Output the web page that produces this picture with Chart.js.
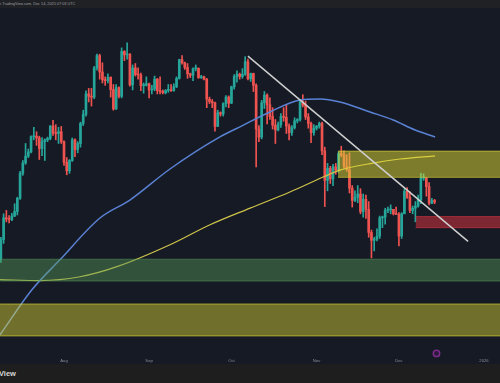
<!DOCTYPE html>
<html><head><meta charset="utf-8">
<script src="https://cdn.jsdelivr.net/npm/chart.js@4.4.1/dist/chart.umd.min.js"></script>
<style>
html,body{margin:0;padding:0;width:500px;height:383px;overflow:hidden;background:#1e1e1e;font-family:"Liberation Sans",Arial,sans-serif;}
#top{position:absolute;left:0;top:0;width:500px;height:8px;background:#202125;overflow:hidden;}
#toptxt{position:absolute;left:-3px;top:2.2px;font-size:7.6px;line-height:8px;color:#9b9ca1;white-space:nowrap;transform:scale(0.5);transform-origin:0 0;}
#wrap{position:absolute;left:0;top:8px;width:500px;height:356px;background:#161a25;}
#bottom{position:absolute;left:0;top:364px;width:500px;height:19px;background:#1e1e1e;overflow:hidden;}
#logo{position:absolute;left:-1px;top:5px;font-size:7.5px;line-height:9px;font-weight:bold;color:#d8d8d8;}
</style></head>
<body>
<div id="top"><span id="toptxt">on TradingView.com, Dec 14, 2025 07:03 UTC</span></div>
<div id="wrap"><canvas id="c" width="500" height="356"></canvas></div>
<div id="bottom"><span id="logo">View</span></div>
<script>
// day 0 = 2025-07-01 ; first candle = Jul 9 (day 8), last = Dec 14 (day 166)
const firstDay = 8;
const opens = [2615,2770,2955,2945,2940,2970,3010,3130,3370,3475,3545,3590,3755,3760,3740,3625,3700,3720,3735,3875,3795,3790,3810,
3700,3480,3395,3500,3720,3615,3680,3905,4010,4260,4230,4220,4600,4770,4545,4440,4430,4475,4315,4075,4340,4230,4830,4780,4790,4375,4600,4510,4505,4365,4370,
4390,4310,4320,4450,4300,4290,4275,4305,4310,4300,4350,4460,4715,4670,4605,4520,4500,4590,4595,4470,4480,4450,4195,4165,4150,3870,4030,4015,4140,4220,
4145,4350,4485,4515,4485,4515,4685,4455,4525,4370,3840,3750,4150,4245,4125,3985,3885,3830,3890,3985,3975,3875,3800,3855,3935,3950,4160,4120,3980,3905,3800,
3850,3875,3905,3600,3300,3420,3315,3435,3400,3570,3560,3440,3410,3225,3110,3140,3170,3010,3120,3030,2830,2765,2775,2800,2955,2960,3020,3025,3030,2990,
2985,2800,2990,3195,3140,3020,3040,3060,3115,3320,3325,3240,3085,3110];
const highs = [2790,2990,3020,2975,2995,3080,3140,3390,3500,3680,3620,3765,3860,3810,3760,3745,3730,3750,3880,3940,3890,3860,3870,
3710,3530,3510,3740,3730,3700,3920,4060,4300,4330,4330,4620,4790,4790,4670,4480,4520,4480,4380,4380,4350,4880,4840,4955,4800,4640,4660,4600,4530,4400,4480,
4400,4370,4490,4460,4480,4310,4315,4380,4380,4390,4480,4720,4770,4680,4660,4530,4600,4640,4600,4500,4490,4460,4220,4190,4160,4060,4040,4150,4240,4235,
4360,4510,4560,4530,4590,4755,4720,4530,4530,4390,3880,4180,4290,4260,4210,4090,3950,3920,4020,4090,4120,3900,3880,3970,3960,4170,4250,4170,4020,3920,3890,
3880,3920,3920,3640,3470,3440,3460,3470,3590,3650,3600,3560,3580,3250,3200,3250,3220,3170,3160,3100,2850,2790,2860,2970,2970,3040,3050,3070,3030,3050,
3000,3000,3220,3230,3190,3060,3100,3160,3370,3365,3330,3280,3130,3120];
const lows = [2590,2740,2920,2910,2930,2965,2980,3120,3350,3460,3530,3580,3720,3660,3510,3550,3500,3700,3720,3770,3720,3680,3680,
3450,3355,3370,3490,3540,3580,3640,3880,3990,4160,4110,4200,4570,4450,4400,4370,4400,4220,4060,4070,4210,4210,4700,4720,4360,4310,4490,4450,4300,4270,4360,
4210,4260,4300,4260,4260,4260,4260,4280,4290,4295,4340,4450,4650,4580,4460,4470,4430,4560,4460,4460,4440,4090,4140,4090,3815,3870,3990,3990,4100,4090,
4140,4320,4410,4450,4460,4500,4440,4420,4290,3435,3700,3730,4080,3900,3950,3840,3680,3820,3860,3930,3790,3720,3770,3840,3910,3930,4100,3950,3850,3690,3770,
3830,3850,3560,3055,3200,3270,3250,3360,3380,3540,3420,3390,3180,3050,3100,3090,2990,2960,2950,2790,2625,2680,2760,2780,2870,2900,3000,2990,2980,2985,
2720,2780,2990,3130,3000,2990,2920,3050,3080,3300,3150,3070,3080,3080];
const closes = [2770,2955,2945,2940,2970,3010,3130,3370,3475,3545,3590,3755,3760,3740,3625,3700,3720,3735,3875,3795,3790,3810,3700,
3480,3395,3500,3720,3615,3680,3905,4010,4260,4230,4220,4600,4770,4545,4440,4430,4475,4315,4075,4340,4230,4830,4780,4790,4375,4600,4510,4505,4365,4370,4390,
4310,4320,4450,4300,4290,4275,4305,4310,4300,4350,4460,4715,4670,4605,4520,4500,4590,4595,4470,4480,4450,4195,4165,4150,3870,4030,4015,4140,4220,4145,
4350,4485,4515,4485,4515,4685,4455,4525,4370,3840,3750,4150,4245,4125,3985,3885,3830,3890,3985,3975,3875,3800,3855,3935,3950,4160,4120,3980,3905,3800,3850,
3875,3905,3600,3300,3420,3315,3435,3400,3570,3560,3440,3410,3225,3110,3140,3170,3010,3120,3030,2830,2765,2775,2800,2955,2960,3020,3025,3030,2990,2985,
2800,2990,3195,3140,3020,3040,3060,3115,3320,3325,3240,3085,3110,3095];

// moving averages (day, price)
const blueMaDays = [7.7,19.3,29.5,44.1,55.0,69.6,87.8,96.0,106.0,117.0,124.3,131.5,142.5,150.9,158.9,166.2];
const blueMaVals = [2092,2389,2610,2953,3114,3413,3752,3880,4039,4185,4198,4160,4039,3945,3830,3752];
const yellowMaDays = [7.7,22.3,36.8,50.3,69.6,84.2,98.8,113.3,125.4,131.5,143.6,153.4,166.2];
const yellowMaVals = [2462,2455,2483,2558,2729,2895,3041,3189,3333,3402,3473,3515,3547];

// trend line (day, price)
const trendDays = [98.0, 178.2];
const trendVals = [4763, 2756];

// zones: [fromDay, toDay, high, low]
const zoneFrom = [130.8, 159.1, 0, 0];
const zoneTo   = [200, 200, 200, 200];
const zoneHigh = [3598, 2966, 2615, 2291];
const zoneLow  = [3330, 2870, 2452, 2085];
const zoneFill = ['rgba(228,220,52,0.5)','rgba(226,52,64,0.5)','rgba(90,160,90,0.42)','rgba(228,220,52,0.44)'];
const zoneEdge = ['rgba(228,220,52,0.6)','rgba(226,52,64,0.55)','rgba(90,160,90,0.5)','rgba(228,220,52,0.6)'];

// event marker (day, price)
const eventDays = [166.7];
const eventVals = [1980];

const tickDays = [31,62,92,123,153,184];
const tickLabels = ['Aug','Sep','Oct','Nov','Dec','2026'];

const UP = '#26a69a', DOWN = '#ef5350';
const days = closes.map((_, i) => firstDay + i);
const cols = closes.map((c, i) => c >= opens[i] ? UP : DOWN);

const datasets = [];
for (let z = 0; z < zoneHigh.length; z++) {
  datasets.push({type:'line', data:[{x:zoneFrom[z],y:zoneHigh[z]},{x:zoneTo[z],y:zoneHigh[z]}],
    borderColor:zoneEdge[z], borderWidth:1, pointRadius:0, fill:false, order:3});
  datasets.push({type:'line', data:[{x:zoneFrom[z],y:zoneLow[z]},{x:zoneTo[z],y:zoneLow[z]}],
    borderColor:zoneEdge[z], borderWidth:1, pointRadius:0, fill:'-1', backgroundColor:zoneFill[z], order:3});
}
datasets.push({type:'line', data:blueMaDays.map((d,i)=>({x:d,y:blueMaVals[i]})), borderColor:'#5a82d4', borderWidth:1.5,
  pointRadius:0, fill:false, cubicInterpolationMode:'monotone', order:4});
datasets.push({type:'line', data:yellowMaDays.map((d,i)=>({x:d,y:yellowMaVals[i]})), borderColor:'#cfc44a', borderWidth:1.2,
  pointRadius:0, fill:false, cubicInterpolationMode:'monotone', order:4});
datasets.push({type:'bar', data:days.map((d,i)=>({x:d,y:[lows[i],highs[i]]})), backgroundColor:cols, barThickness:1, grouped:false, order:6});
datasets.push({type:'bar', data:days.map((d,i)=>({x:d,y:[opens[i],closes[i]]})), backgroundColor:cols, barThickness:2, minBarLength:1, grouped:false, order:5});
datasets.push({type:'line', data:trendDays.map((d,i)=>({x:d,y:trendVals[i]})), borderColor:'#cfcfcf', borderWidth:1.5, pointRadius:0, fill:false, order:1});
datasets.push({type:'scatter', data:eventDays.map((d,i)=>({x:d,y:eventVals[i]})), pointRadius:3.2, borderWidth:1.5,
  borderColor:'#7b2a8c', backgroundColor:'#2a1a38', clip:false, order:0});

new Chart(document.getElementById('c'), {
  type:'bar',
  data:{datasets},
  options:{
    responsive:false, animation:false, maintainAspectRatio:false,
    layout:{padding:0, autoPadding:false},
    plugins:{legend:{display:false}, tooltip:{enabled:false}},
    scales:{
      x:{type:'linear', min:7.685, max:189.83, offset:false,
        grid:{display:false, drawTicks:false}, border:{display:false},
        afterBuildTicks:s=>{ s.ticks = tickDays.map(v=>({value:v})); },
        afterFit:s=>{ s.height = 8; s.paddingLeft = 0; s.paddingRight = 0; },
        ticks:{autoSkip:false, maxRotation:0, padding:2, color:'#8b8e97',
          font:{size:4.2, family:'Liberation Sans'},
          callback:(v)=>tickLabels[tickDays.indexOf(v)]}
      },
      y:{type:'logarithmic', display:false, min:1965, max:5490}
    }
  }
});
</script>
</body></html>
